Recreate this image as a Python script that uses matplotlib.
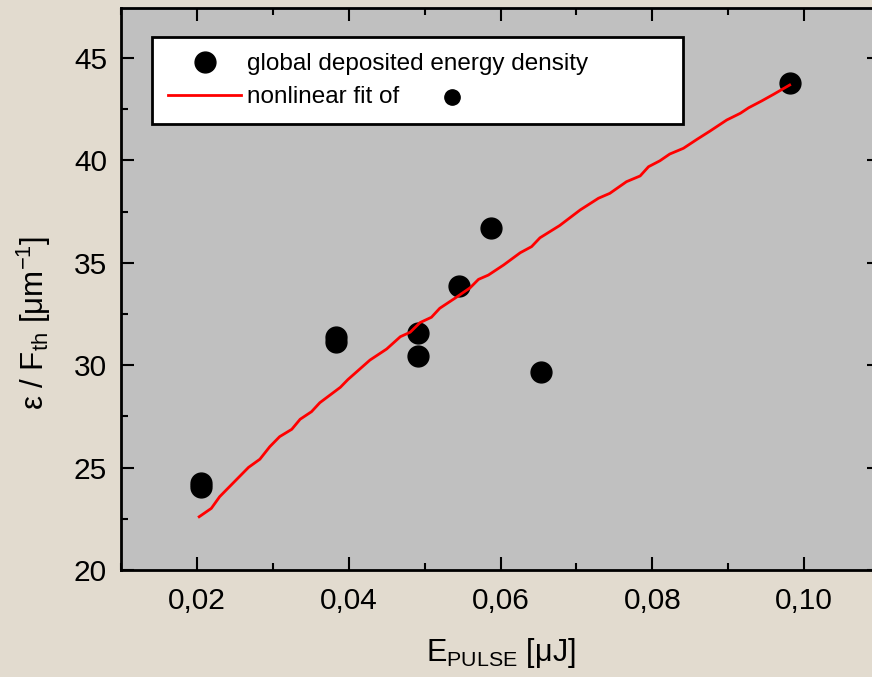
import matplotlib
matplotlib.use("Agg")
import matplotlib.pyplot as plt
from matplotlib.lines import Line2D
from matplotlib.ticker import MultipleLocator, FuncFormatter

plt.rcParams['font.family'] = ['Liberation Sans', 'DejaVu Sans']
plt.rcParams['mathtext.fontset'] = 'custom'
plt.rcParams['mathtext.rm'] = 'Liberation Sans'
plt.rcParams['mathtext.it'] = 'Liberation Sans:italic'

# measured points
E_pulse = [0.0205, 0.0205, 0.0383, 0.0383, 0.0491, 0.0491, 0.0545, 0.0587, 0.0653, 0.0982]
eps_F = [24.25, 24.05, 31.38, 31.13, 31.57, 30.45, 33.87, 36.70, 29.67, 43.78]

# nonlinear fit curve
fit_E = [0.0203, 0.0219, 0.0230, 0.0268, 0.0283, 0.0296, 0.0309, 0.0325, 0.0336,
         0.0351, 0.0362, 0.0389, 0.0399, 0.0428, 0.0450, 0.0468, 0.0481, 0.0494,
         0.0509, 0.0520, 0.0540, 0.0560, 0.0571, 0.0584, 0.0604, 0.0626, 0.0641,
         0.0652, 0.0678, 0.0705, 0.0729, 0.0744, 0.0766, 0.0784, 0.0795, 0.0810,
         0.0823, 0.0841, 0.0859, 0.0876, 0.0898, 0.0916, 0.0927, 0.0944, 0.0960,
         0.0981]
fit_eps = [22.60, 23.01, 23.58, 25.01, 25.41, 26.02, 26.51, 26.87, 27.36,
           27.73, 28.17, 28.92, 29.30, 30.25, 30.79, 31.39, 31.61, 32.08,
           32.34, 32.78, 33.27, 33.78, 34.19, 34.40, 34.89, 35.49, 35.79,
           36.22, 36.82, 37.58, 38.15, 38.39, 38.96, 39.24, 39.69, 39.98,
           40.31, 40.59, 41.03, 41.43, 41.97, 42.30, 42.57, 42.90, 43.23,
           43.68]

fig = plt.figure(figsize=(8.72, 6.77), dpi=100, facecolor='#e2dbcf')
ax = fig.add_axes([121 / 872, 107 / 677, 759 / 872, 562 / 677])
ax.set_facecolor('#c0c0c0')

ax.plot(E_pulse, eps_F, 'o', color='black', ms=15, zorder=3)
ax.plot(fit_E, fit_eps, '-', color='red', lw=2, zorder=4)

ax.set_xlim(0.01, 0.11)
ax.set_ylim(20, 47.44)
ax.xaxis.set_major_locator(MultipleLocator(0.02))
ax.xaxis.set_minor_locator(MultipleLocator(0.01))
ax.yaxis.set_major_locator(MultipleLocator(5))
ax.yaxis.set_minor_locator(MultipleLocator(2.5))
ax.xaxis.set_major_formatter(FuncFormatter(lambda v, p: f"{v:.2f}".replace('.', ',')))
ax.set_xticks([0.02, 0.04, 0.06, 0.08, 0.10])

for s in ax.spines.values():
    s.set_linewidth(2)
ax.tick_params(which='both', direction='in', top=True, right=True, width=1.5,
               labelsize=21.5)
ax.tick_params(which='major', length=9.5)
ax.tick_params(which='minor', length=5)
ax.tick_params(axis='x', pad=12)
ax.tick_params(axis='y', pad=10)

ax.set_xlabel(r"E$_{\mathrm{PULSE}}$ [μJ]", fontsize=22)
ax.set_ylabel(r"ε / F$_{\mathrm{th}}$ [μm$^{\mathrm{-1}}$]", fontsize=22.5)
ax.xaxis.set_label_coords(0.5, -0.118)
ax.yaxis.set_label_coords(-0.09, 0.44)

handles = [Line2D([], [], marker='o', ls='none', color='black', ms=15),
           Line2D([], [], color='red', lw=2)]
leg = ax.legend(handles, ["global deposited energy density", "nonlinear fit of"],
                loc='upper left', bbox_to_anchor=(31 / 759, 0.5, 531 / 759, 0.448),
                mode='expand', borderaxespad=0, fontsize=17.5, fancybox=False,
                framealpha=1, edgecolor='black', handlelength=3.0,
                handletextpad=0.25, labelspacing=0.45, borderpad=0.66)
leg.get_frame().set_linewidth(2)
leg.set_zorder(5)

# dot after "nonlinear fit of" in the legend
ax.plot([(452 - 121) / 759], [(570 - 97) / 562], 'o', color='black', ms=11,
        transform=ax.transAxes, clip_on=False, zorder=6)

fig.savefig("out.png", dpi=100, facecolor=fig.get_facecolor())
